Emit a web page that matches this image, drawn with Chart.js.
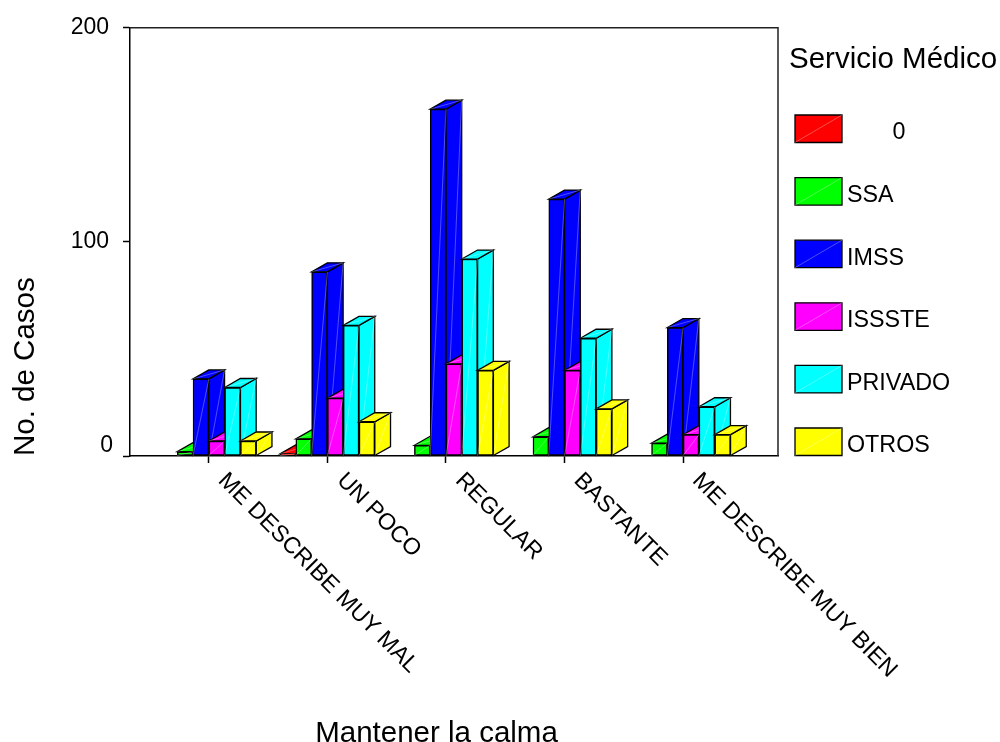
<!DOCTYPE html>
<html>
<head>
<meta charset="utf-8">
<title>Mantener la calma</title>
<script src="https://cdn.jsdelivr.net/npm/chart.js@4"></script>
<style>
    body { margin: 0; background: #fff; }
    canvas { display: block; }
</style>
</head>
<body>
<canvas id="grafico" width="1000" height="742"></canvas>
<script>
var categorias = ["ME DESCRIBE MUY MAL", "UN POCO", "REGULAR", "BASTANTE", "ME DESCRIBE MUY BIEN"];
var servicios = ["0", "SSA", "IMSS", "ISSSTE", "PRIVADO", "OTROS"];
var colores = ["#ff0000", "#00ff00", "#0000ff", "#ff00ff", "#00ffff", "#ffff00"];

var valoresCero = [0, 1, 0, 0, 0];
var valoresSSA = [2, 8, 5, 9, 6];
var valoresIMSS = [36, 86, 162, 120, 60];
var valoresISSSTE = [7, 27, 43, 40, 10];
var valoresPrivado = [32, 61, 92, 55, 23];
var valoresOtros = [7, 16, 40, 22, 10];
var series = [valoresCero, valoresSSA, valoresIMSS, valoresISSSTE, valoresPrivado, valoresOtros];

var ticksY = [0, 100, 200];

var fuente = "'Liberation Sans', Arial, sans-serif";
var fondoX = 15.7;  // profundidad de las barras
var fondoY = 9;

function cara(ctx, puntos, color) {
    ctx.beginPath();
    ctx.moveTo(puntos[0][0], puntos[0][1]);
    for (var i = 1; i < puntos.length; i++) {
        ctx.lineTo(puntos[i][0], puntos[i][1]);
    }
    ctx.closePath();
    ctx.fillStyle = color;
    ctx.fill();
    ctx.lineWidth = 1.3;
    ctx.strokeStyle = "#000";
    ctx.stroke();
}

// la linea clara que cruza cada cara en el original
function diagonal(ctx, x0, y0, x1, y1) {
    ctx.beginPath();
    ctx.moveTo(x0, y0);
    ctx.lineTo(x1, y1);
    ctx.lineWidth = 1;
    ctx.strokeStyle = "rgba(255,255,255,0.3)";
    ctx.stroke();
}

function texto(ctx, cadena, x, y, tam, alinear, giro) {
    ctx.save();
    ctx.translate(x, y);
    ctx.rotate(giro || 0);
    ctx.font = tam + "px " + fuente;
    ctx.fillStyle = "#000";
    ctx.textAlign = alinear;
    ctx.textBaseline = "middle";
    ctx.fillText(cadena, 0, 0);
    ctx.restore();
}

var plugin3d = {
    id: "barras3d",
    // se dibuja de izquierda a derecha, cada barra tapa a la anterior
    beforeDatasetsDraw: function(chart) {
        var ctx = chart.ctx;
        series.forEach(function(valores, indice) {
            var meta = chart.getDatasetMeta(indice);
            var color = colores[indice];
            var visibles = meta.data.map(function(bar) {
                return bar.getProps(["x", "y", "base", "width"], true);
            }).filter(function(p) {
                return p.base - p.y >= 0.5;
            });
            visibles.forEach(function(p) {
                var izq = p.x - p.width / 2;
                var der = p.x + p.width / 2;
                cara(ctx, [[der, p.y], [der + fondoX, p.y - fondoY], [der + fondoX, p.base - fondoY], [der, p.base]], color);
                diagonal(ctx, der, p.base, der + fondoX, p.y - fondoY);
                cara(ctx, [[izq, p.y], [der, p.y], [der + fondoX, p.y - fondoY], [izq + fondoX, p.y - fondoY]], color);
                diagonal(ctx, izq, p.y, der + fondoX, p.y - fondoY);
            });
            meta.controller.draw();
            visibles.forEach(function(p) {
                diagonal(ctx, p.x - p.width / 2, p.base, p.x + p.width / 2, p.y);
            });
        });
        return false;
    },
    afterDraw: function(chart) {
        var ctx = chart.ctx;
        var area = chart.chartArea;
        var escalaX = chart.scales.x;
        var escalaY = chart.scales.y;

        // marco superior y derecho
        ctx.save();
        ctx.beginPath();
        ctx.moveTo(area.left, area.top);
        ctx.lineTo(area.right, area.top);
        ctx.lineTo(area.right, area.bottom);
        ctx.lineWidth = 1.5;
        ctx.strokeStyle = "#222";
        ctx.stroke();
        ctx.restore();

        // etiquetas giradas, empiezan bajo la marca
        categorias.forEach(function(nombre, i) {
            texto(ctx, nombre, escalaX.getPixelForValue(i) + 13, area.bottom + 21, 23.2, "left", Math.PI / 4);
        });

        // el cero va desplazado en el original
        texto(ctx, String(ticksY[0]), 113, escalaY.getPixelForValue(ticksY[0]) - 10, 23, "right");

        texto(ctx, "Mantener la calma", 436.5, 734, 29.5, "center");

        // leyenda
        texto(ctx, "Servicio Médico", 789, 60, 29.5, "left");
        servicios.forEach(function(nombre, i) {
            var y = 115 + i * 62.6;
            cara(ctx, [[795, y], [842, y], [842, y + 27.5], [795, y + 27.5]], colores[i]);
            diagonal(ctx, 795, y + 27.5, 842, y);
            if (nombre === "0") {
                texto(ctx, nombre, 899, y + 18, 23.3, "center");
            } else {
                texto(ctx, nombre, 847, y + 18, 23.3, "left");
            }
        });
    }
};

var datasets = series.map(function(valores, i) {
    return {
        label: servicios[i],
        data: valores.map(function(v, j) { return { x: j, y: v }; }),
        backgroundColor: colores[i],
        borderColor: "#000",
        borderWidth: 1.5,
        borderSkipped: false,
        barThickness: 15.8
    };
});

new Chart(document.getElementById("grafico"), {
    type: "bar",
    data: { datasets: datasets },
    plugins: [plugin3d],
    options: {
        responsive: false,
        animation: false,
        layout: { padding: { top: 24, right: 222, left: 0, bottom: 0 } },
        plugins: {
            legend: { display: false },
            tooltip: { enabled: false }
        },
        scales: {
            x: {
                type: "linear",
                offset: false,
                min: -0.665,
                max: 4.8,
                afterBuildTicks: function(escala) {
                    escala.ticks = categorias.map(function(c, i) { return { value: i }; });
                },
                afterFit: function(escala) { escala.height = 286; },
                ticks: { display: false },
                grid: { offset: false, drawOnChartArea: false, tickLength: 7, tickColor: "#000", tickWidth: 1.5 },
                border: { color: "#000", width: 1.5 }
            },
            y: {
                min: 0,
                max: 200,
                afterBuildTicks: function(escala) {
                    escala.ticks = ticksY.map(function(v) { return { value: v }; });
                },
                afterFit: function(escala) { escala.width = 130; },
                ticks: {
                    padding: 14,
                    color: "#000",
                    font: { family: fuente, size: 23 },
                    callback: function(v) { return v === 0 ? "" : String(v); }
                },
                title: {
                    display: true,
                    text: "No. de Casos",
                    align: "start",
                    color: "#000",
                    font: { family: fuente, size: 29.5 },
                    padding: { top: 8, bottom: 0 }
                },
                grid: { drawOnChartArea: false, tickLength: 7, tickColor: "#000", tickWidth: 1.5 },
                border: { color: "#000", width: 1.5 }
            }
        }
    }
});
</script>
</body>
</html>
